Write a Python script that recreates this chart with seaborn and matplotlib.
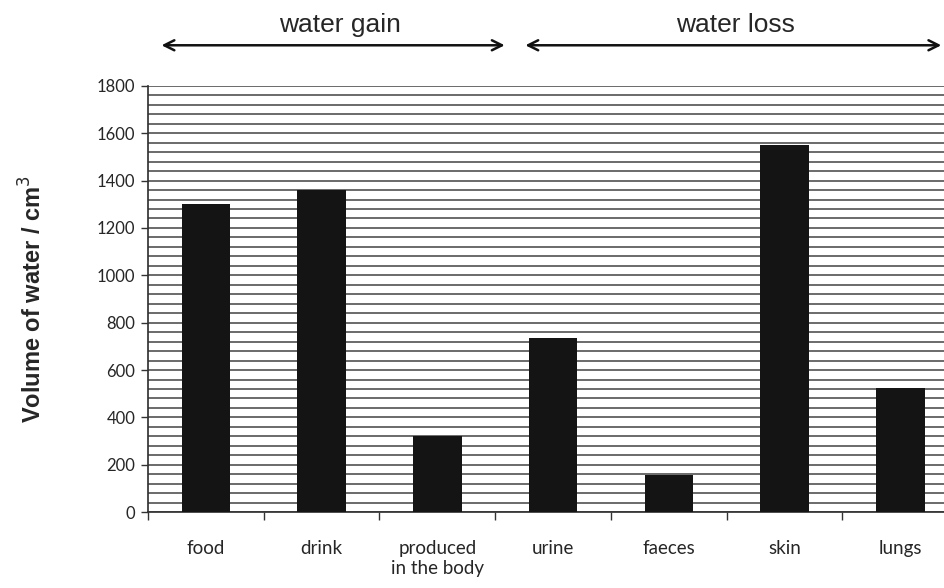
import numpy as np
import pandas as pd
import matplotlib
matplotlib.use("Agg")
import matplotlib.pyplot as plt
import seaborn as sns

# valeurs
categories = ["food", "drink", "produced\nin the body", "urine", "faeces", "skin", "lungs"]
volumes = [1300, 1360, 320, 735, 155, 1550, 525]
y_ticks = [0, 200, 400, 600, 800, 1000, 1200, 1400, 1600, 1800]

df = pd.DataFrame({"source": categories, "volume": volumes})

sns.set_theme(style="white")
plt.rcParams["font.family"] = ["Lato", "DejaVu Sans"]

fig = plt.figure(figsize=(9.45, 5.88), dpi=100)
ax = fig.add_axes([0.1566, 0.129, 0.85, 0.725])

sns.barplot(data=df, x="source", y="volume", color="#141414", width=0.42,
            saturation=1, linewidth=0, edgecolor="none", ax=ax, zorder=3)

# lignes horizontales serrees (toutes les 40)
for yv in np.arange(0, 1801, 40):
    ax.axhline(yv, color="#333333", lw=1.2, alpha=0.85, zorder=1)

ax.set_xlim(-0.5, 6.44)
ax.set_ylim(0, 1800)
ax.set_yticks(y_ticks)
ax.set_yticklabels([str(v) for v in y_ticks], fontsize=12)
ax.set_xticks(np.arange(-0.5, 6.0, 1.0))
ax.set_xticklabels([])
ax.set_xticks(range(len(categories)), minor=True)
ax.set_xticklabels(categories, minor=True, fontsize=13.5, linespacing=1.25)
ax.tick_params(axis="x", which="minor", length=0, pad=20)
ax.tick_params(axis="x", which="major", length=6, width=1, color="#333333", direction="out")
ax.tick_params(axis="y", length=5, width=1, color="#333333", direction="out", pad=4)
ax.tick_params(axis="x", which="major", bottom=True)
ax.tick_params(axis="y", left=True)

for side in ["top", "right"]:
    ax.spines[side].set_visible(False)
ax.spines["left"].set_color("#333333")
ax.spines["bottom"].set_color("#333333")

ax.set_xlabel("")
ax.set_ylabel("Volume of water / cm$^3$", fontsize=17, fontweight="bold",
              family="Liberation Sans", labelpad=36)

# fleches et textes en haut
fig.text(0.36, 0.958, "water gain", ha="center", va="center", fontsize=19,
         family="Liberation Sans")
fig.text(0.778, 0.958, "water loss", ha="center", va="center", fontsize=19,
         family="Liberation Sans")
ax.annotate("", xy=(0.168, 0.923), xytext=(0.537, 0.923), xycoords="figure fraction",
            arrowprops=dict(arrowstyle="<->", lw=1.8, color="#111111", mutation_scale=18))
ax.annotate("", xy=(0.553, 0.923), xytext=(0.999, 0.923), xycoords="figure fraction",
            arrowprops=dict(arrowstyle="<->", lw=1.8, color="#111111", mutation_scale=18))

fig.savefig("out.png", dpi=100)
